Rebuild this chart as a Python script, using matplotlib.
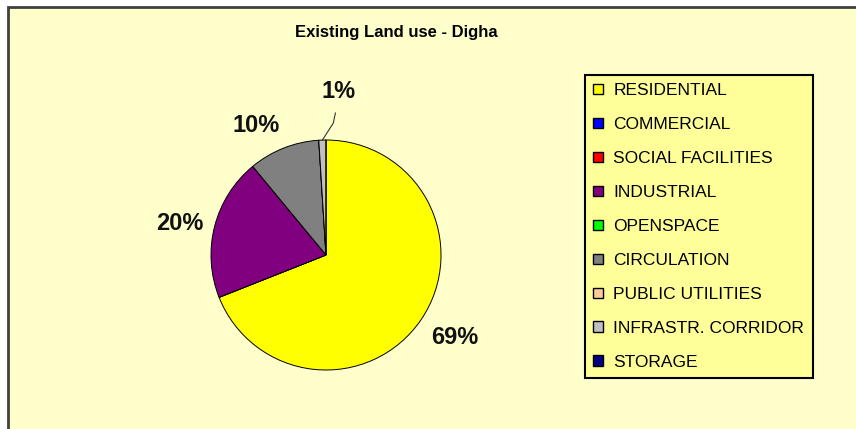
import matplotlib
matplotlib.use("Agg")
import matplotlib.pyplot as plt
from matplotlib.patches import Rectangle, Patch
import numpy as np

plt.rcParams['font.family'] = ['Liberation Sans', 'DejaVu Sans']

categories = ["RESIDENTIAL", "COMMERCIAL", "SOCIAL FACILITIES", "INDUSTRIAL",
              "OPENSPACE", "CIRCULATION", "PUBLIC UTILITIES",
              "INFRASTR. CORRIDOR", "STORAGE"]
shares = [69, 0, 0, 20, 0, 10, 0, 1, 0]
colors = ["#FFFF00", "#0000FF", "#FF0000", "#800080", "#00FF00",
          "#808080", "#FFCC99", "#C0C0C0", "#000080"]

W, H = 856, 429
fig = plt.figure(figsize=(W / 100, H / 100), dpi=100, facecolor="white")

# chart area background + frame (behind everything)
fig.patches.append(Rectangle((8 / W, -0.05), 1.0, 1 - 7 / H + 0.05,
                             transform=fig.transFigure, facecolor="#FFFFCC",
                             edgecolor="#404040", linewidth=2, zorder=-5))

fig.text(396 / W, 1 - 33 / H, "Existing Land use - Digha", ha="center", va="center",
         fontsize=12, fontweight="bold")

# pie axes: centre (326, 255) px, radius 115 px
cx, cy, r = 326, 255, 115
ax = fig.add_axes([(cx - r) / W, (H - cy - r) / H, 2 * r / W, 2 * r / H])
ax.set_facecolor("none")
ax.set_zorder(2)

wedges, _ = ax.pie(shares, colors=colors, startangle=90, counterclock=False,
                   wedgeprops=dict(edgecolor="black", linewidth=0.7))
ax.set_xlim(-1, 1)
ax.set_ylim(-1, 1)
ax.set_aspect("equal")
ax.axis("off")

# percentage labels placed outside the wedges, excel style
for w, v in zip(wedges, shares):
    if v <= 0:
        continue
    mid = np.deg2rad((w.theta1 + w.theta2) / 2)
    c, s = np.cos(mid), np.sin(mid)
    lab = "%d%%" % v
    style = dict(fontsize=17, fontweight="bold", color="#111111", clip_on=False)
    if v < 3:
        # tiny slice: label above with a leader line
        x0, y0 = c, s
        ax.plot([x0, x0 + 0.095, x0 + 0.113], [y0, y0 + 0.148, y0 + 0.235],
                color="#333333", lw=0.8, clip_on=False)
        ax.text(x0 + 0.14, y0 + 0.42, lab, ha="center", va="center", **style)
        continue
    ha = "center" if abs(c) < 0.3 else ("left" if c > 0 else "right")
    va = "center" if abs(s) < 0.5 else ("bottom" if s > 0 else "top")
    ax.text(1.1 * c, 1.1 * s, lab, ha=ha, va=va, **style)

handles = [Patch(facecolor=c, edgecolor="black", linewidth=1) for c in colors]
leg = fig.legend(handles, categories, loc="upper left",
                 bbox_to_anchor=(585 / W, 1 - 75 / H), frameon=True, fancybox=False,
                 fontsize=12.5, handlelength=0.55, handleheight=0.55, handletextpad=0.6,
                 labelspacing=1.09, borderpad=0.48, borderaxespad=0)
leg.get_frame().set_facecolor("#FFFF99")
leg.get_frame().set_edgecolor("black")
leg.get_frame().set_linewidth(1.5)
leg.get_frame().set_alpha(1)

fig.savefig("out.png", dpi=100, facecolor="white")
